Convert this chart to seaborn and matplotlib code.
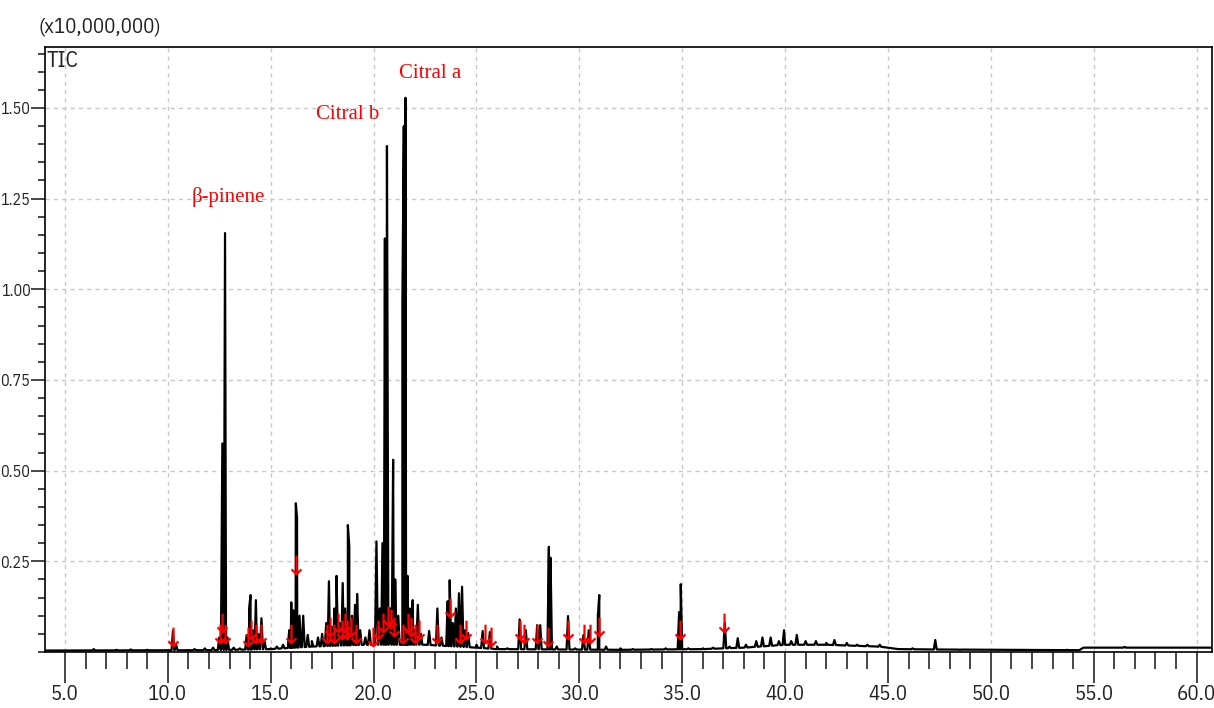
import numpy as np
import pandas as pd
import matplotlib
matplotlib.use("Agg")
import matplotlib.pyplot as plt
from matplotlib.ticker import MultipleLocator, FixedLocator, FormatStrFormatter
import seaborn as sns

# peak apex retention times (min) and heights (x10,000,000)
peak_time = [6.4, 7.5, 8.2, 9.0, 9.6, 10.25, 10.4, 11.3, 11.8, 12.2, 12.5,
             12.65, 12.78, 12.9, 13.2, 13.5,
             13.83, 13.95, 14.02, 14.15, 14.28, 14.4, 14.55, 14.7, 15.0, 15.3, 15.6,
             15.9, 16.0, 16.1, 16.22, 16.28, 16.4, 16.58, 16.8, 17.0, 17.3, 17.5,
             17.7, 17.83, 17.95, 18.1, 18.2, 18.35, 18.5, 18.62, 18.75, 18.82, 18.95,
             19.1, 19.2, 19.35, 19.6, 19.8,
             20.14, 20.3, 20.43, 20.55, 20.65, 20.8, 20.95, 21.05, 21.2, 21.4, 21.47,
             21.55, 21.65, 21.75, 21.9, 22.0, 22.15, 22.3, 22.7, 23.1, 23.3, 23.6,
             23.7, 23.85, 24.0, 24.15, 24.3, 24.45, 24.6, 25.0, 25.3, 25.65, 26.0,
             26.5, 27.1, 27.4, 27.95, 28.1, 28.52, 28.6, 28.9, 29.45, 29.8, 30.2,
             30.46, 30.9, 30.97, 31.3, 32.0, 32.6, 33.5, 34.2, 34.85, 34.93, 35.3,
             36.0, 36.5, 37.07, 37.3, 37.7, 38.1, 38.6, 38.9, 39.3, 39.7, 39.95,
             40.3, 40.57, 41.0, 41.5, 42.0, 42.4, 43.0, 43.5, 44.0, 44.6, 46.2,
             47.3, 48.5, 53.7, 56.5]
peak_height = [0.008, 0.006, 0.007, 0.006, 0.005, 0.058, 0.02, 0.008, 0.01, 0.012, 0.04,
               0.575, 1.155, 0.04, 0.012, 0.01,
               0.047, 0.12, 0.157, 0.06, 0.143, 0.05, 0.093, 0.03, 0.01, 0.015, 0.02,
               0.06, 0.137, 0.115, 0.41, 0.37, 0.1, 0.1, 0.047, 0.03, 0.04, 0.05,
               0.08, 0.195, 0.07, 0.12, 0.21, 0.08, 0.19, 0.12, 0.35, 0.29, 0.1,
               0.13, 0.16, 0.06, 0.04, 0.06,
               0.305, 0.12, 0.30, 1.14, 1.395, 0.12, 0.53, 0.2, 0.1, 0.96, 1.45,
               1.528, 0.21, 0.12, 0.143, 0.06, 0.13, 0.05, 0.058, 0.12, 0.04, 0.14,
               0.198, 0.08, 0.12, 0.162, 0.18, 0.06, 0.052, 0.02, 0.058, 0.055, 0.015,
               0.01, 0.09, 0.06, 0.074, 0.074, 0.29, 0.26, 0.015, 0.099, 0.01, 0.047,
               0.06, 0.10, 0.157, 0.015, 0.01, 0.008, 0.008, 0.01, 0.11, 0.187, 0.01,
               0.01, 0.012, 0.08, 0.015, 0.038, 0.02, 0.03, 0.04, 0.04, 0.03, 0.06,
               0.03, 0.047, 0.03, 0.03, 0.025, 0.033, 0.025, 0.02, 0.02, 0.02, 0.01,
               0.033, 0.006, 0.006, 0.014]

# noise floor of the trace
base_time = [4.03, 12.0, 15.0, 17.0, 19.5, 22.5, 25.0, 26.0, 32.0, 36.0, 38.0,
             40.0, 42.0, 44.5, 45.5, 47.0, 54.3, 54.5, 60.75]
base_level = [0.004, 0.005, 0.008, 0.015, 0.02, 0.02, 0.012, 0.008, 0.006, 0.008, 0.012,
              0.02, 0.02, 0.015, 0.008, 0.007, 0.005, 0.012, 0.012]

# red peak-detection arrows
arrow_time = [10.25, 12.55, 12.65, 12.8, 13.9, 14.05, 14.3, 14.55, 16.0, 16.22,
              17.75, 17.9, 18.1, 18.25, 18.45, 18.6, 18.7, 18.9, 19.15, 19.95,
              20.2, 20.45, 20.7, 20.85, 21.0, 21.45, 21.65, 21.8, 22.0, 22.2,
              23.1, 23.7, 24.2, 24.5, 25.4, 25.7, 27.1, 27.3, 27.95, 28.5,
              29.45, 30.25, 30.5, 30.95, 34.9, 37.05]
arrow_level = [0.04, 0.05, 0.08, 0.05, 0.04, 0.06, 0.05, 0.05, 0.05, 0.24,
               0.05, 0.07, 0.05, 0.08, 0.06, 0.08, 0.06, 0.07, 0.05, 0.04,
               0.06, 0.08, 0.1, 0.09, 0.07, 0.05, 0.08, 0.07, 0.05, 0.06,
               0.05, 0.12, 0.05, 0.06, 0.05, 0.04, 0.06, 0.05, 0.05, 0.04,
               0.06, 0.05, 0.05, 0.07, 0.06, 0.08]

labels = ["β-pinene", "Citral b", "Citral a"]
label_time = [12.92, 18.75, 22.74]
label_level = [1.254, 1.483, 1.596]

# build the trace: baseline points plus a narrow triangle for each peak
half_w = 0.07
pt = np.array(peak_time)
ph = np.array(peak_height)
foot = np.interp(pt, base_time, base_level)
t_all = np.concatenate([base_time, pt - half_w, pt, pt + half_w])
v_all = np.concatenate([base_level, foot, ph, foot])
order = np.argsort(t_all, kind="stable")
trace = pd.DataFrame({"time": t_all[order], "tic": v_all[order]})
arrows = pd.DataFrame({"time": arrow_time, "tic": arrow_level})

sns.set_theme(style="white")
narrow = ["Liberation Sans Narrow", "IBM Plex Sans Condensed", "Liberation Sans", "DejaVu Sans"]
plt.rcParams["font.family"] = narrow

fig = plt.figure(figsize=(12.14, 7.08), dpi=100)
ax = fig.add_axes([45 / 1214, 1 - 652 / 708, (1212 - 45) / 1214, (652 - 47) / 708])

sns.lineplot(data=trace, x="time", y="tic", ax=ax, color="black", linewidth=1.6,
             sort=False, estimator=None)
sns.scatterplot(data=arrows, x="time", y="tic", ax=ax, marker=r"$\downarrow$",
                s=200, color="red", linewidth=0, zorder=4)

for lab, lt, lv in zip(labels, label_time, label_level):
    ax.text(lt, lv, lab, color="red", ha="center", va="center", fontsize=15,
            family=["Liberation Serif", "DejaVu Serif"])

ax.set_xlim(4.03, 60.75)
ax.set_ylim(0, 1.668)
ax.xaxis.set_major_locator(MultipleLocator(5))
ax.xaxis.set_minor_locator(MultipleLocator(1))
ax.xaxis.set_major_formatter(FormatStrFormatter("%.1f"))
ax.yaxis.set_major_locator(FixedLocator([0.25, 0.5, 0.75, 1.0, 1.25, 1.5]))
ax.yaxis.set_minor_locator(MultipleLocator(0.05))
ax.yaxis.set_major_formatter(FormatStrFormatter("%.2f"))
ax.tick_params(axis="x", which="major", direction="out", length=22, width=1.2,
               labelsize=15, pad=2, bottom=True, labelcolor="#222222")
ax.tick_params(axis="x", which="minor", direction="out", length=12, width=1.2, bottom=True)
ax.tick_params(axis="y", which="major", direction="out", length=10, width=1.2,
               labelsize=11.5, pad=0.5, left=True, labelcolor="#222222")
ax.tick_params(axis="y", which="minor", direction="out", length=5, width=1.2, left=True)
ax.grid(True, which="major", color="#c8c8c8", linestyle=(0, (3, 3)), linewidth=1)
for s in ax.spines.values():
    s.set_color("black")
    s.set_linewidth(1.2)
ax.set_xlabel("")
ax.set_ylabel("")

ax.text(0.001, 0.995, "TIC", transform=ax.transAxes, ha="left", va="top", fontsize=16,
        color="#222222")
fig.text(38 / 1214, 1 - 27 / 708, "(x10,000,000)", ha="left", va="center", fontsize=15,
         color="#222222")

fig.savefig("out.png", dpi=100)
